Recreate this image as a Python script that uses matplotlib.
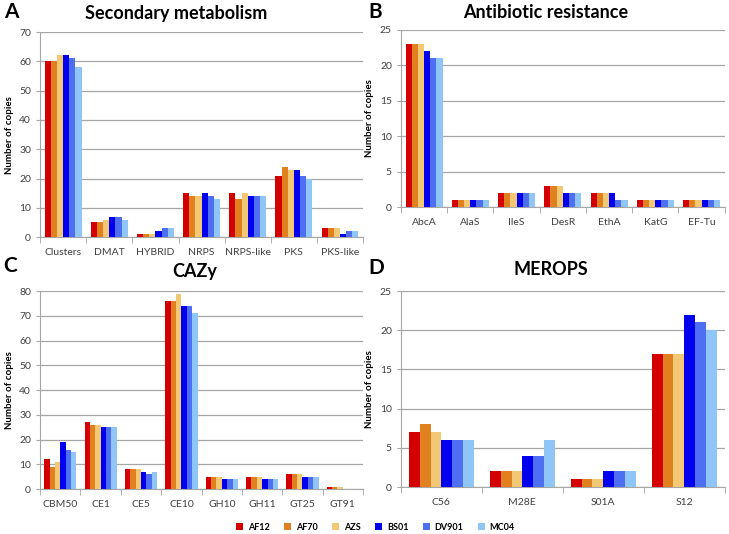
import numpy as np
import matplotlib
matplotlib.use("Agg")
import matplotlib.pyplot as plt
from matplotlib.patches import Patch

plt.rcParams['font.family'] = ['Lato', 'DejaVu Sans']

# Strains and colours
strains = ['AF12', 'AF70', 'AZS', 'BS01', 'DV901', 'MC04']
colors = ['#d40000', '#e0801e', '#f2c874', '#0000ee', '#4f6ff2', '#8fc6f7']

# Panel A: secondary metabolism
a_cats = ['Clusters', 'DMAT', 'HYBRID', 'NRPS', 'NRPS-like', 'PKS', 'PKS-like']
a_vals = [[60, 60, 62, 62, 61, 58],
          [5, 5, 6, 7, 7, 6],
          [1, 1, 1, 2, 3, 3],
          [15, 14, 14, 15, 14, 13],
          [15, 13, 15, 14, 14, 14],
          [21, 24, 23, 23, 21, 20],
          [3, 3, 3, 1, 2, 2]]

# Panel B: antibiotic resistance
b_cats = ['AbcA', 'AlaS', 'IleS', 'DesR', 'EthA', 'KatG', 'EF-Tu']
b_vals = [[23, 23, 23, 22, 21, 21],
          [1, 1, 1, 1, 1, 1],
          [2, 2, 2, 2, 2, 2],
          [3, 3, 3, 2, 2, 2],
          [2, 2, 2, 2, 1, 1],
          [1, 1, 1, 1, 1, 1],
          [1, 1, 1, 1, 1, 1]]

# Panel C: CAZy
c_cats = ['CBM50', 'CE1', 'CE5', 'CE10', 'GH10', 'GH11', 'GT25', 'GT91']
c_vals = [[12, 9, 11, 19, 16, 15],
          [27, 26, 26, 25, 25, 25],
          [8, 8, 8, 7, 6, 7],
          [76, 76, 79, 74, 74, 71],
          [5, 5, 5, 4, 4, 4],
          [5, 5, 5, 4, 4, 4],
          [6, 6, 6, 5, 5, 5],
          [1, 1, 1, 0, 0, 0]]

# Panel D: MEROPS
d_cats = ['C56', 'M28E', 'S01A', 'S12']
d_vals = [[7, 8, 7, 6, 6, 6],
          [2, 2, 2, 4, 4, 6],
          [1, 1, 1, 2, 2, 2],
          [17, 17, 17, 22, 21, 20]]

fig = plt.figure(figsize=(7.29, 5.34), dpi=100)

# letter, title, cats, values, ymax, step, axes rect, title xy, letter xy
panels = [
    ('A', 'Secondary metabolism', a_cats, a_vals, 70, 10, [0.055, 0.556, 0.443, 0.384], (0.241, 0.975), (0.005, 0.978)),
    ('B', 'Antibiotic resistance', b_cats, b_vals, 25, 5, [0.550, 0.612, 0.444, 0.332], (0.749, 0.976), (0.505, 0.978)),
    ('C', 'CAZy', c_cats, c_vals, 80, 10, [0.055, 0.084, 0.443, 0.371], (0.267, 0.491), (0.005, 0.501)),
    ('D', 'MEROPS', d_cats, d_vals, 25, 5, [0.550, 0.088, 0.444, 0.367], (0.756, 0.496), (0.505, 0.498)),
]

grid_col = '#a6a6a6'
text_col = '#404040'

for letter, title, cats, vals, ymax, step, pos, txy, lxy in panels:
    ax = fig.add_axes(pos)
    vals = np.array(vals)
    n = len(strains)
    x = np.arange(len(cats))
    w = 0.8 / n
    for i in range(n):
        ax.bar(x - 0.4 + w * (i + 0.5), vals[:, i], width=w, color=colors[i], zorder=3)
    ax.set_xlim(-0.5, len(cats) - 0.5)
    ax.set_ylim(0, ymax)
    ax.set_yticks(np.arange(0, ymax + 1, step))
    ax.yaxis.grid(True, color=grid_col, lw=0.9)
    ax.set_axisbelow(True)
    ax.set_xticks(x)
    ax.set_xticklabels(cats)
    ax.set_xticks(np.arange(-0.5, len(cats)), minor=True)
    ax.tick_params(axis='x', which='major', length=0, labelsize=7.5, colors=text_col, pad=8)
    ax.tick_params(axis='x', which='minor', length=4, color=grid_col, direction='out')
    ax.tick_params(axis='y', length=3, color=grid_col, labelsize=7.5, labelcolor=text_col)
    for s in ['top', 'right']:
        ax.spines[s].set_visible(False)
    ax.spines['left'].set_color(grid_col)
    ax.spines['bottom'].set_color(grid_col)
    ax.set_ylabel('Number of copies', fontsize=7, fontweight='bold', labelpad=4)
    fig.text(txy[0], txy[1], title, fontsize=13, fontweight='bold', ha='center', va='center')
    fig.text(lxy[0], lxy[1], letter, fontsize=15, fontweight='bold', ha='left', va='center')

handles = [Patch(facecolor=c) for c in colors]
fig.legend(handles, strains, loc='center', bbox_to_anchor=(0.515, 0.013), ncol=6, frameon=False,
           prop={'size': 6.5, 'weight': 'bold'}, handlelength=0.8, handleheight=0.8,
           columnspacing=1.6, handletextpad=0.5)

fig.savefig('out.png', dpi=100)
